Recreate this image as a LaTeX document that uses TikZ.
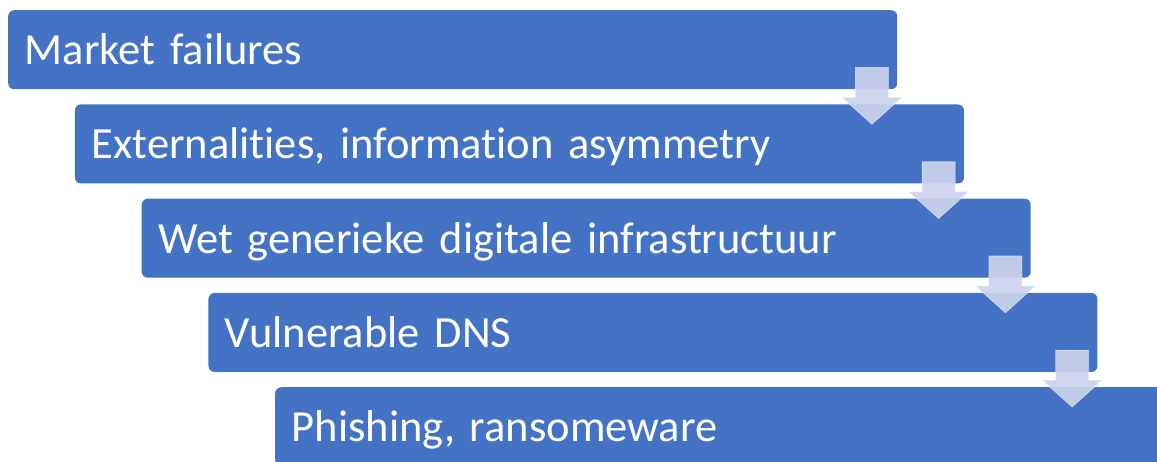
\documentclass[tikz,border=0pt]{standalone}
\usepackage{fontspec}
\setmainfont{Carlito}[Ligatures={NoCommon}]
\usetikzlibrary{calc}
\definecolor{boxblue}{RGB}{68,114,196}
\definecolor{arrowfill}{RGB}{204,211,235}
\newcommand{\boxfont}{\fontsize{44.5}{52}\selectfont}
\tikzset{
  x=1pt, y=1pt,
  listbox/.style={draw=none, fill=boxblue, rounded corners=6pt, anchor=north west,
    minimum height=79pt, text width=856pt, align=left, inner xsep=16.5pt, inner ysep=0pt,
    text height=30pt, text depth=0pt, text=white, font=\boxfont},
  blockarrow/.style={fill=arrowfill, fill opacity=0.92, draw=white, draw opacity=0.45, line width=0.8pt}
}
\begin{document}
\begin{tikzpicture}
\useasboundingbox (0,0) rectangle (1157,-461);
\clip (0,0) rectangle (1157,-461);
\node[listbox] (b1) at (8,-10) {Market failures};
\node[listbox] (b2) at (74.75,-104.25) {Externalit\kern0pt ies, informat\kern0pt ion asymmetry};
\node[listbox] (b3) at (141.5,-198.5) {Wet generieke digitale infrastructuur};
\node[listbox] (b4) at (208.25,-292.75) {Vulnerable DNS};
\node[listbox] (b5) at (275,-387) {Phishing, ransomeware};
\foreach \a/\b in {b1/b2,b2/b3,b3/b4,b4/b5}{
  \path ($(\a.south east)+(-25.5,0)$) coordinate (c);
  \path (\b.north) coordinate (n);
  \draw[blockarrow]
    ($(c)+(-16.5,22)$) -- ($(c)+(16.5,22)$) -- ($(c)+(16.5,-8)$) -- ($(c)+(30,-8)$)
    -- (c |- {$(n)+(0,-20)$}) -- ($(c)+(-30,-8)$) -- ($(c)+(-16.5,-8)$) -- cycle;
}
\end{tikzpicture}
\end{document}
